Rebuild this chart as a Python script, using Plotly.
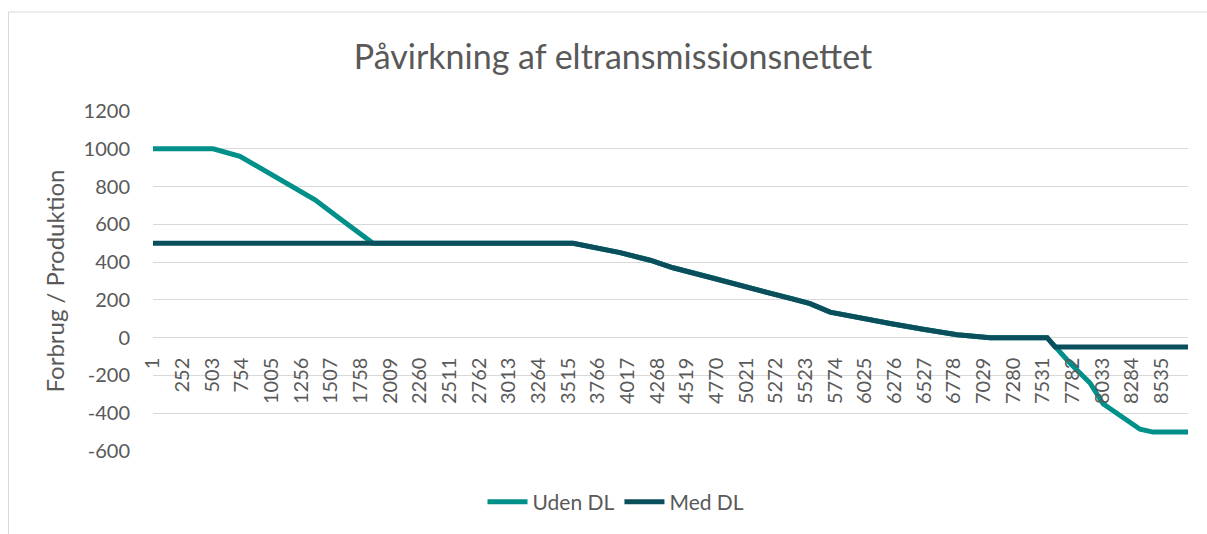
import plotly.graph_objects as go

# Hours (category index) and values
uden_hours = [1, 510, 737, 1017, 1372, 1584, 1863, 3556, 3954, 4208, 4402, 4716, 4970,
              5198, 5418, 5562, 5731, 5960, 6239, 6518, 6806, 7086, 7568, 7762, 7931,
              8041, 8185, 8354, 8465, 8760]
uden_values = [1000, 1000, 960, 860, 730, 630, 500, 500, 450, 410, 370, 320, 275,
               240, 205, 180, 135, 105, 75, 45, 15, 0, 0, -135, -240,
               -350, -415, -485, -500, -500]

med_hours = [1, 3556, 3954, 4208, 4402, 4716, 4970, 5198, 5418, 5562, 5731, 5960,
             6239, 6518, 6806, 7086, 7568, 7636, 8760]
med_values = [500, 500, 450, 410, 370, 320, 275, 240, 205, 180, 135, 105,
              75, 45, 15, 0, 0, -50, -50]

tick_hours = [1, 252, 503, 754, 1005, 1256, 1507, 1758, 2009, 2260, 2511, 2762, 3013,
              3264, 3515, 3766, 4017, 4268, 4519, 4770, 5021, 5272, 5523, 5774, 6025,
              6276, 6527, 6778, 7029, 7280, 7531, 7782, 8033, 8284, 8535]
tick_labels = [str(t) for t in tick_hours]

y_ticks = [-600, -400, -200, 0, 200, 400, 600, 800, 1000, 1200]
y_tick_labels = ["-600", "-400", "-200", "0", "200", "400", "600", "800", "1000", "1200"]

TEAL = "#00908A"
DARK = "#0B4F5C"
GREY = "#595959"
FONT = "Lato"

fig = go.Figure()
fig.add_trace(go.Scatter(x=uden_hours, y=uden_values, mode="lines", name="Uden DL",
                         line=dict(color=TEAL, width=5)))
fig.add_trace(go.Scatter(x=med_hours, y=med_values, mode="lines", name="Med DL",
                         line=dict(color=DARK, width=5)))

W, H = 1207, 534
L, R, T, B = 153, 19, 111, 83
pw, ph = W - L - R, H - T - B

fig.update_layout(
    width=W, height=H,
    margin=dict(l=L, r=R, t=T, b=B, pad=0),
    paper_bgcolor="white", plot_bgcolor="white",
    font=dict(family=FONT, color=GREY, size=20),
    title=dict(text="Påvirkning af eltransmissionsnettet", font=dict(size=34, color=GREY, family=FONT),
               x=613 / W, xref="container", xanchor="center",
               y=1 - 57 / H, yref="container", yanchor="middle"),
    xaxis=dict(range=[1, 8760], tickmode="array", tickvals=tick_hours, ticktext=tick_labels,
               tickangle=-90, showgrid=False, zeroline=False, showline=False,
               anchor="free", position=1 / 3, ticks="", ticklabelstandoff=15,
               tickfont=dict(size=20, color=GREY, family=FONT)),
    yaxis=dict(range=[-600, 1200], tickmode="array", tickvals=y_ticks, ticktext=y_tick_labels,
               showgrid=True, gridcolor="#D9D9D9", gridwidth=1.3, zeroline=False,
               showline=False, ticks="", ticklabelstandoff=22,
               tickfont=dict(size=20, color=GREY, family=FONT),
               title=dict(text="Forbrug / Produktion", standoff=12,
                          font=dict(size=24, color=GREY, family=FONT))),
    showlegend=True,
    legend=dict(orientation="h", x=(616 - L) / pw, xanchor="center",
                y=(451 - 502) / ph, yanchor="middle",
                font=dict(size=21, color=GREY, family=FONT), itemwidth=40,
                bgcolor="rgba(0,0,0,0)"),
)

# Chart-area border
fig.add_shape(type="rect", xref="paper", yref="paper",
              x0=(8.5 - L) / pw, x1=(1215 - L) / pw,
              y0=(451 - 540) / ph, y1=(451 - 12) / ph,
              line=dict(color="#D9D9D9", width=1), fillcolor="rgba(0,0,0,0)", layer="below")

fig.write_html("out.html", config={"displayModeBar": False},
               post_script="document.body.style.margin='0px';")
